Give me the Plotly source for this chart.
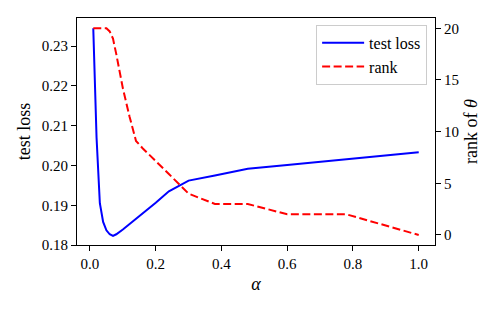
import plotly.graph_objects as go

alpha = [0.01, 0.02, 0.03, 0.04, 0.05, 0.06, 0.07, 0.08, 0.10, 0.12, 0.14, 0.16,
         0.20, 0.24, 0.30, 0.38, 0.48, 0.60, 0.78, 1.00]
test_loss = [0.2345, 0.2070, 0.1905, 0.1858, 0.1837, 0.1827, 0.1823, 0.1827, 0.1839,
             0.1852, 0.1865, 0.1878, 0.1906, 0.1935, 0.1962, 0.1975, 0.1992, 0.2001,
             0.2016, 0.2033]
rank = [20, 20, 20, 20, 20, 19.7, 19.0, 17.5, 14.2, 11.5, 9.1, 8.4,
        7.1, 5.9, 4.0, 3.0, 3.0, 2.0, 2.0, 0]

x_ticks = [0.0, 0.2, 0.4, 0.6, 0.8, 1.0]
loss_ticks = [0.18, 0.19, 0.20, 0.21, 0.22, 0.23]
rank_ticks = [0, 5, 10, 15, 20]

FONT = "Liberation Serif"

fig = go.Figure()
fig.add_trace(go.Scatter(x=alpha, y=test_loss, mode="lines", name="test loss",
                         line=dict(color="blue", width=2)))
fig.add_trace(go.Scatter(x=alpha, y=rank, mode="lines", name="rank", yaxis="y2",
                         line=dict(color="red", width=2, dash="8px,3.5px")))

axis_common = dict(showline=True, linecolor="black", linewidth=1, ticks="outside",
                   ticklen=5, tickcolor="black", tickwidth=1, showgrid=False,
                   zeroline=False, automargin=False,
                   tickfont=dict(family=FONT, size=15, color="black"))

fig.update_layout(
    width=500, height=309,
    margin=dict(l=77, r=65, t=18, b=64, autoexpand=False),
    paper_bgcolor="white", plot_bgcolor="white",
    font=dict(family=FONT, size=15, color="black"),
    xaxis=dict(range=[-0.0395, 1.0495], tickvals=x_ticks, tickformat=".1f",
               mirror=True, title=dict(text="<i>α</i>", standoff=6), **axis_common),
    yaxis=dict(range=[0.18, 0.2371], tickvals=loss_ticks, tickformat=".2f",
               mirror=True, title=dict(text="test loss", standoff=6), **axis_common),
    yaxis2=dict(range=[-0.97, 21.0], tickvals=rank_ticks, overlaying="y", side="right",
                title=dict(text="rank of <i>θ</i>", standoff=6), **axis_common),
    legend=dict(x=0.978, y=0.97, xanchor="right", yanchor="top",
                bgcolor="rgba(255,255,255,0.8)", bordercolor="#cccccc", borderwidth=1,
                font=dict(family=FONT, size=16), tracegroupgap=0, itemwidth=42),
    showlegend=True,
)

fig.write_html("out.html", post_script="document.body.style.margin='0';",
               config={"displayModeBar": False})
